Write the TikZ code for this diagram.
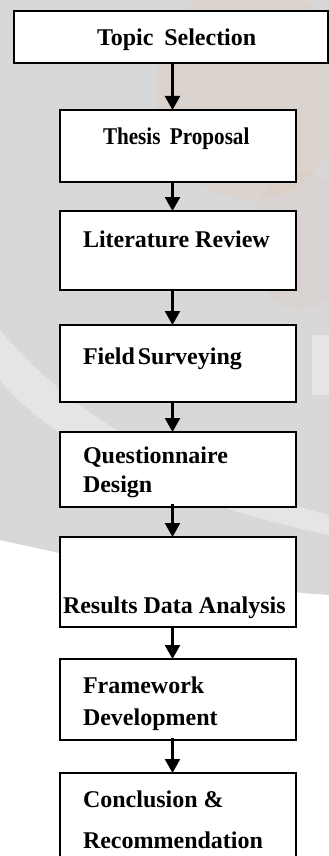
\documentclass[tikz,border=0pt]{standalone}
\usepackage{fontspec}
\usepackage{graphicx}
\setmainfont{Liberation Serif}
\usetikzlibrary{arrows.meta}

\definecolor{bggray}{RGB}{216,216,216}
\definecolor{peach}{RGB}{240,170,120}

\begin{document}
\begin{tikzpicture}[x=1pt,y=-1pt,
  stagebox/.style={draw=black,line width=2pt,fill=white,inner sep=0pt,outer sep=0pt},
  stagetext/.style={anchor=base west,inner sep=0pt,outer sep=0pt,
    font=\fontsize{24}{28}\selectfont\bfseries},
  flow/.style={line width=2.3pt,-{Triangle[width=15pt,length=14pt]}},
  haze/.style={fill=white,opacity=0.35}]

% canvas and soft backdrop
\useasboundingbox (0,0) rectangle (329,856);
\fill[white] (0,0) rectangle (329,856);
\fill[bggray] (0,0) -- (329,0) -- (329,595)
  .. controls (220,588) and (90,560) .. (0,540) -- cycle;
\fill[peach,opacity=0.10] (250,90) ellipse (95 and 110);
\fill[peach,opacity=0.07] (300,240) ellipse (50 and 70);
\fill[haze] (0,330) .. controls (60,400) and (150,470) .. (329,515)
  -- (329,535) .. controls (140,495) and (40,430) .. (0,380) -- cycle;
\fill[haze] (312,335) rectangle (329,395);

% stage boxes
\path[stagebox] (14,11) rectangle (328,63);
\node[minimum width=314pt,minimum height=52pt] (b1) at (171,37) {};
\path[stagebox] (60,110) rectangle (296,182);
\node (b2n) at (172.5,110) {}; \node (b2s) at (172.5,182) {};
\path[stagebox] (60,211) rectangle (296,290);
\node (b3n) at (172.5,211) {}; \node (b3s) at (172.5,290) {};
\path[stagebox] (60,325) rectangle (296,402);
\node (b4n) at (172.5,325) {}; \node (b4s) at (172.5,402) {};
\path[stagebox] (60,432) rectangle (296,507);
\node (b5n) at (172.5,432) {}; \node (b5s) at (172.5,504) {};
\path[stagebox] (60,537) rectangle (296,627);
\node (b6n) at (172.5,537) {}; \node (b6s) at (172.5,627) {};
\path[stagebox] (60,659) rectangle (296,740);
\node (b7n) at (172.5,659) {}; \node (b7s) at (172.5,738) {};
\path[stagebox] (60,773) rectangle (296,880);
\node (b8n) at (172.5,773) {};

% labels
\node[stagetext] (t1) at (97,46) {Topic\hspace{0.45em}Selection};
\node[stagetext] (t2) at (103,144) {\scalebox{0.88}[1]{Thesis\hspace{0.45em}Proposal}};
\node[stagetext] (t3) at (83,247) {Literature Review};
\node[stagetext] (t4) at (83,364) {Field\hspace{0.12em}Surveying};
\node[stagetext] (t5a) at (83,463) {Questionnaire};
\node[stagetext] (t5b) at (83,492) {Design};
\node[stagetext] (t6) at (63,613) {Results Data Analysis};
\node[stagetext] (t7a) at (83,693) {Framework};
\node[stagetext] (t7b) at (83,725) {Development};
\node[stagetext] (t8a) at (83,807) {Conclusion \&};
\node[stagetext] (t8b) at (83,848) {Recommendation};

% connectors
\draw[flow] (b1.south -| b2n) -- (b2n.center);
\draw[flow] (b2s.center) -- (b3n.center);
\draw[flow] (b3s.center) -- (b4n.center);
\draw[flow] (b4s.center) -- (b5n.center);
\draw[flow] (b5s.center) -- (b6n.center);
\draw[flow] (b6s.center) -- (b7n.center);
\draw[flow] (b7s.center) -- (b8n.center);
\end{tikzpicture}
\end{document}
